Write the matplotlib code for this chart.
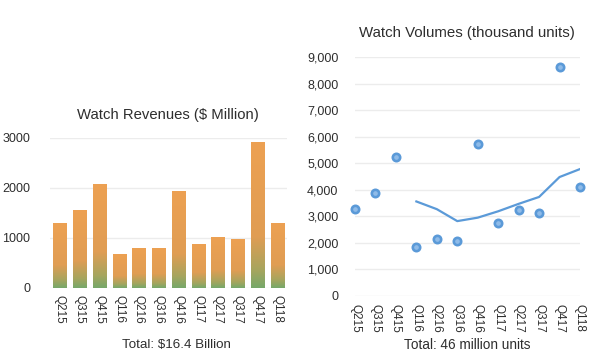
import numpy as np
import matplotlib
matplotlib.use("Agg")
import matplotlib.pyplot as plt
from matplotlib.colors import LinearSegmentedColormap
from matplotlib.ticker import FuncFormatter

# quarters and values
quarters = ["Q215", "Q315", "Q415", "Q116", "Q216", "Q316",
            "Q416", "Q117", "Q217", "Q317", "Q417", "Q118"]
revenue = [1310, 1570, 2080, 690, 810, 810, 1950, 890, 1030, 990, 2930, 1310]
volume = [3290, 3890, 5230, 1830, 2140, 2080, 5740, 2750, 3240, 3110, 8630, 4120]
# trend line (4 quarter moving average) starts at Q116
trend_quarters = quarters[3:]
trend = [3560, 3270, 2820, 2950, 3190, 3470, 3730, 4480, 4780]

plt.rcParams['font.family'] = ['Liberation Sans', 'DejaVu Sans']
txt = "#2e2e2e"
grid = "#ececec"
blue = "#5b9ad8"

fig = plt.figure(figsize=(6, 3.56), dpi=100)

# ---- left: revenues
ax = fig.add_axes([50/600, 1-288/356, 237/600, 150/356])
cmap = LinearSegmentedColormap.from_list(
    "og", [(0, "#76a86a"), (0.12, "#a6a55e"), (0.35, "#e09d54"), (1, "#eda152")])
grad = np.linspace(0, 1, 256).reshape(-1, 1)
x = np.arange(len(quarters))
bw = 0.67
bars = ax.bar(x, revenue, width=bw, color="none", edgecolor="none")
for b in bars:
    im = ax.imshow(grad, cmap=cmap, origin="lower", aspect="auto",
                   extent=(b.get_x(), b.get_x() + b.get_width(), 0, b.get_height()),
                   zorder=2)
    im.set_clip_path(b)
ax.set_xlim(-0.5, len(quarters) - 0.5)
ax.set_ylim(0, 3000)
ax.set_yticks([0, 1000, 2000, 3000])
ax.set_xticks(x)
ax.set_xticklabels(quarters, rotation=-90)
ax.yaxis.grid(True, color=grid, lw=1)
ax.set_axisbelow(True)
for s in ax.spines.values():
    s.set_visible(False)
ax.tick_params(length=0, colors=txt)
ax.tick_params(axis="y", pad=14, labelsize=9)
ax.tick_params(axis="x", pad=5, labelsize=8.5)
fig.text(168/600, 1-115/356, "Watch Revenues ($ Million)", ha="center", va="center",
         fontsize=10.7, color=txt)
fig.text(176/600, 1-345/356, "Total: $16.4 Billion", ha="center", va="center",
         fontsize=9.6, color=txt)

# ---- right: volumes
ax2 = fig.add_axes([355/600, 1-296/356, 225/600, 239/356])
ax2.scatter(x, volume, s=28, facecolor="#8fbbe8", edgecolor=blue, lw=1.9,
            zorder=3, clip_on=False)
ax2.plot(x[3:], trend, color=blue, lw=1.6, zorder=2)
ax2.set_xlim(0, len(quarters) - 1)
ax2.set_ylim(0, 9000)
ax2.set_yticks(range(0, 9001, 1000))
ax2.yaxis.set_major_formatter(FuncFormatter(lambda v, p: f"{int(v):,}"))
ax2.set_xticks(x)
ax2.set_xticklabels(quarters, rotation=-90)
ax2.yaxis.grid(True, color=grid, lw=1)
ax2.set_axisbelow(True)
for s in ax2.spines.values():
    s.set_visible(False)
ax2.tick_params(length=0, colors=txt)
ax2.tick_params(axis="y", pad=12, labelsize=9)
ax2.tick_params(axis="x", pad=6, labelsize=8.5)
fig.text(467/600, 1-33/356, "Watch Volumes (thousand units)", ha="center", va="center",
         fontsize=10.8, color=txt)
fig.text(467/600, 1-345/356, "Total: 46 million units", ha="center", va="center",
         fontsize=9.8, color=txt)

fig.savefig("out.png", dpi=100, facecolor="white")
